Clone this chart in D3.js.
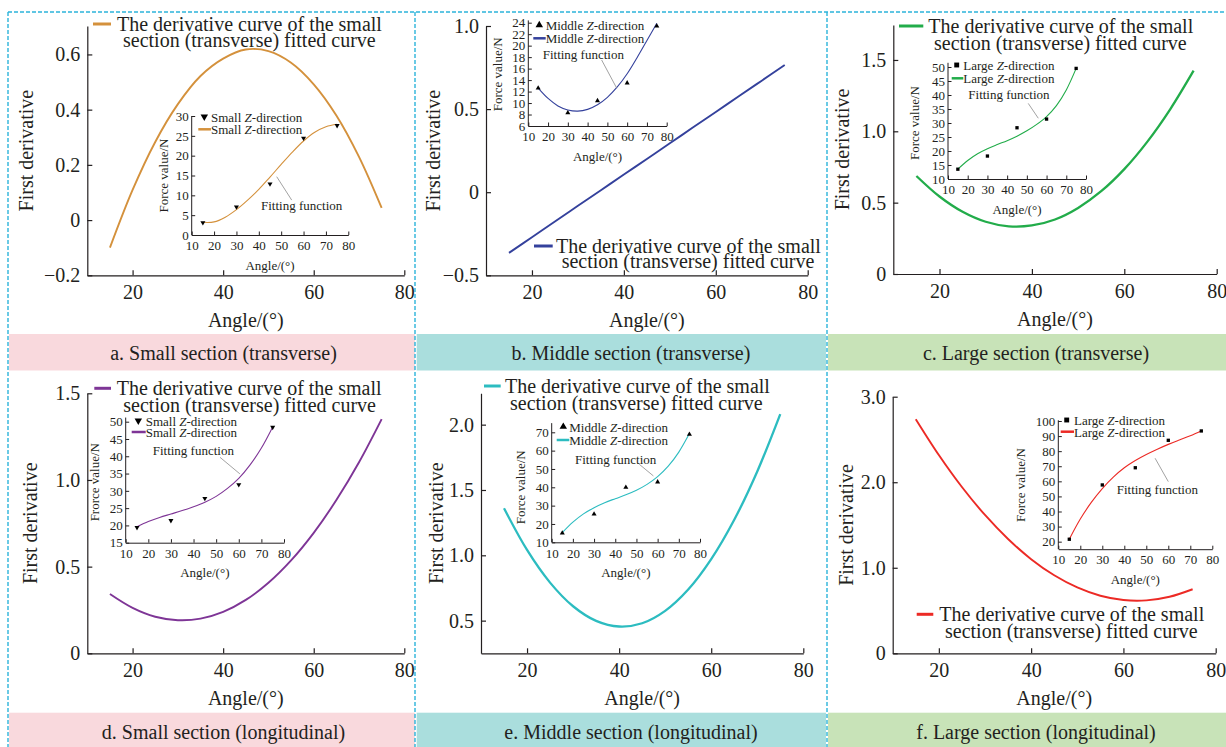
<!DOCTYPE html>
<html><head><meta charset="utf-8">
<script src="https://cdn.jsdelivr.net/npm/d3@7"></script>
<style>
body{margin:0;background:#fff;}
svg{display:block;}
text{font-family:"Liberation Serif","Times New Roman",serif;fill:#231f20;}
</style>
</head><body>
<svg id="chart" width="1226" height="747"></svg>
<script>
// ---------- data ----------
const curveAngles = [15,20,25,30,35,40,45,50,55,60,65,70,75];
const pointAngles = [15,30,45,60,75];
const mainXTicks = [20,40,60,80];
const insetXTicks = [10,20,30,40,50,60,70,80];

const derivA = [-0.100,0.109,0.283,0.420,0.522,0.585,0.618,0.612,0.570,0.492,0.379,0.229,0.044];
const derivB = [-0.365,-0.271,-0.176,-0.082,0.012,0.106,0.200,0.294,0.389,0.483,0.577,0.671,0.765];
const derivC = [0.687,0.543,0.436,0.366,0.334,0.340,0.382,0.463,0.580,0.735,0.928,1.158,1.425];
const derivD = [0.342,0.262,0.211,0.191,0.200,0.239,0.308,0.407,0.536,0.695,0.884,1.102,1.351];
const derivE = [1.360,1.041,0.791,0.610,0.498,0.455,0.480,0.575,0.738,0.971,1.272,1.642,2.081];
const derivF = [2.737,2.318,1.944,1.617,1.336,1.101,0.912,0.770,0.673,0.623,0.619,0.661,0.749];

const fitA = [3.2,3.3,4.5,6.4,8.8,11.5,14.6,17.8,20.9,23.7,25.9,27.3,27.9];
const fitB = [12.6,10.8,9.5,8.8,8.6,8.9,9.7,11.0,12.8,15.1,17.9,20.9,23.9];
const fitC = [13.5,16.6,19.0,20.8,22.3,23.7,25.3,27.2,29.5,32.3,36.2,41.8,49.5];
const fitD = [19.6,21.1,22.3,23.3,24.3,25.4,26.7,28.4,30.7,33.6,37.5,42.4,48.5];
const fitE = [15.3,21.0,25.5,28.9,31.6,33.8,35.9,38.4,41.6,45.8,51.5,59.2,69.3];
const fitF = [21.6,35.0,46.0,55.2,62.8,69.0,73.8,77.8,81.3,84.5,87.4,90.2,93.4];

const ptsA = [3.1,7.1,12.9,24.4,27.6];
const ptsB = [12.6,8.3,10.4,13.5,23.4];
const ptsC = [13.5,18.2,28.3,31.4,49.5];
const ptsD = [19.4,21.4,27.8,31.8,48.4];
const ptsE = [15.0,25.4,40.0,42.9,68.9];
const ptsF = [21.6,57.6,69.0,87.2,93.4];

const yTicksA = [-0.2,0,0.2,0.4,0.6];
const yTicksB = [-0.5,0,0.5,1.0];
const yTicksC = [0,0.5,1.0,1.5];
const yTicksD = [0,0.5,1.0,1.5];
const yTicksE = [0.5,1.0,1.5,2.0];
const yTicksF = [0,1.0,2.0,3.0];

const insetYTicksA = [0,5,10,15,20,25,30];
const insetYTicksB = [6,8,10,12,14,16,18,20,22,24];
const insetYTicksC = [10,15,20,25,30,35,40,45,50];
const insetYTicksD = [15,20,25,30,35,40,45,50];
const insetYTicksE = [10,20,30,40,50,60,70];
const insetYTicksF = [20,30,40,50,60,70,80,90,100];

const panelLabels = ["a. Small section (transverse)","b. Middle section (transverse)","c. Large section (transverse)",
  "d. Small section (longitudinal)","e. Middle section (longitudinal)","f. Large section (longitudinal)"];
const seriesNames = ["Small","Middle","Large","Small","Middle","Large"];
const insetYTitles = ["Force value/N","Force value/N","Force value/N","Frorce value/N","Force value/N","Force value/N"];
const legendLine1 = "The derivative curve of the small";
const legendLine2 = "section (transverse) fitted curve";
const mainXTitle = "Angle/(°)";
const mainYTitle = "First derivative";
const fitLabel = "Fitting function";

// ---------- layout / style ----------
const colors = ["#d4913c","#34419c","#22ac4a","#7e3596","#2cbcc0","#ec2a25"];
const markers = ["down","up","square","down","up","square"];
const derivs = [derivA,derivB,derivC,derivD,derivE,derivF];
const fits = [fitA,fitB,fitC,fitD,fitE,fitF];
const pts = [ptsA,ptsB,ptsC,ptsD,ptsE,ptsF];
const yTicks = [yTicksA,yTicksB,yTicksC,yTicksD,yTicksE,yTicksF];
const iyTicks = [insetYTicksA,insetYTicksB,insetYTicksC,insetYTicksD,insetYTicksE,insetYTicksF];

const layout = [
 {xr:[87.3,404.3], yr:[275.3,26], yd:[-0.2,0.703], tdx:-61.3, band:{x0:9,x1:415,y0:334,y1:370.5,c:"#f9d9dd",tx:223.5,ty:353},
  leg:{lx0:93,lx1:111,ly:24,t1x:117,t2x:123,t2y:40},
  ix:[191.7,348.3], iy:[235,116], iyd:[0,30], iyTop:30, itdx:-28.7,
  il:{mx:204.3,my:116.7,tx:211,ly:129.3,lx0:198.3}, ft:{x:261,y:205}, lead:[[48,14.7],[54.7,8.8]]},
 {xr:[486,807.7], yr:[275.3,26], yd:[-0.5,1.0], tdx:-52.7, band:{x0:416.7,x1:826,y0:334,y1:370.5,c:"#aadedd",tx:631,ty:353},
  leg:{lx0:534,lx1:552.7,ly:246,t1x:556,t2x:561.7,t2y:260.7},
  ix:[528.3,666.7], iy:[126,22.7], iyd:[6,24], iyTop:24.4, itdx:-31,
  il:{mx:539.3,my:25,tx:545.7,ly:38.3,lx0:533.3}, ft:{x:542.7,y:54.3}, lead:[[47.1,17.5],[54.7,12.6]]},
 {xr:[893.3,1216.7], yr:[274,25], yd:[0,1.745], tdx:-51.7, band:{x0:828,x1:1226,y0:334,y1:370.5,c:"#c8e3b8",tx:1036,ty:353},
  leg:{lx0:899,lx1:923.3,ly:26,t1x:928.3,t2x:934,t2y:42.7},
  ix:[948,1086], iy:[179,67], iyd:[10,50], iyTop:51.5, itdx:-34,
  il:{mx:956.7,my:65,tx:963.3,ly:78.3,lx0:951.7}, ft:{x:968.3,y:94}, lead:[[50.7,37.0],[55.8,31.7]]},
 {xr:[87.3,404.3], yr:[653.3,393.3], yd:[0,1.5], tdx:-57.3, band:{x0:9,x1:415,y0:712.7,y1:747,c:"#f9d9dd",tx:223.5,ty:731.7},
  leg:{lx0:94.3,lx1:111,ly:388.3,t1x:116.7,t2x:123.3,t2y:405},
  ix:[125.7,284], iy:[542.7,421.7], iyd:[15,50], iyTop:51.2, itdx:-31.4,
  il:{mx:138.3,my:420.7,tx:145.7,ly:432,lx0:131.7}, ft:{x:152.7,y:450.7}, lead:[[51.7,39.7],[60.5,34.9]]},
 {xr:[481,803.3], yr:[653.3,393.3], yd:[0.25,2.24], tdx:-45, band:{x0:416.7,x1:826,y0:712.7,y1:747,c:"#aadedd",tx:631,ty:731.7},
  leg:{lx0:484,lx1:500.7,ly:386,t1x:505,t2x:510,t2y:403.3},
  ix:[551.7,700], iy:[542.3,432.3], iyd:[10,70], iyTop:75, itdx:-31.7,
  il:{mx:563.3,my:426.7,tx:569.3,ly:440,lx0:556.7}, ft:{x:575,y:459}, lead:[[51.3,52.6],[58,46.2]]},
 {xr:[892.7,1215.7], yr:[653.3,396.7], yd:[0,3], tdx:-46.7, band:{x0:828,x1:1226,y0:712.7,y1:747,c:"#c8e3b8",tx:1036,ty:731.7},
  leg:{lx0:916.7,lx1:933.3,ly:614.3,t1x:939.3,t2x:945,t2y:630.7},
  ix:[1058.3,1212.3], iy:[549.2,421], iyd:[15,100], iyTop:100.5, itdx:-38,
  il:{mx:1066.7,my:420,tx:1074,ly:431.7,lx0:1060.7}, ft:{x:1116.7,y:489}, lead:[[54,75.3],[60,59.8]]}
];

const INK = "#231f20";
const svg = d3.select("#chart");
svg.append("rect").attr("width",1226).attr("height",747).attr("fill","#fff");

const fmtMain = v => v === 0 ? "0" : d3.format(".1f")(v);

function markerPath(type, size){
  if(type === "square") return d3.symbol(d3.symbolSquare, size)();
  return d3.symbol(d3.symbolTriangle, size)();
}
function addMarker(g, type, x, y, size){
  g.append("path").attr("d", markerPath(type,size))
   .attr("transform", `translate(${x},${y})` + (type==="down" ? " rotate(180)" : ""))
   .attr("fill", "#000");
}
function styleAxis(g, fs){
  g.attr("font-family", "Liberation Serif, Times New Roman, serif").attr("font-size", fs).attr("color", INK);
  g.selectAll("text").style("fill", INK);
}

// bands
layout.forEach((L,i) => {
  svg.append("rect").attr("x",L.band.x0).attr("y",L.band.y0)
    .attr("width",L.band.x1-L.band.x0).attr("height",L.band.y1-L.band.y0).attr("fill",L.band.c);
  svg.append("text").attr("x",L.band.tx).attr("y",L.band.ty).attr("text-anchor","middle")
    .attr("dominant-baseline","central").attr("font-size",20).text(panelLabels[i]);
});

// panels
layout.forEach((L,i) => {
  const g = svg.append("g");
  const color = colors[i];
  const x = d3.scaleLinear().domain([10,80]).range(L.xr);
  const y = d3.scaleLinear().domain(L.yd).range(L.yr);

  // main axes
  const gx = g.append("g").attr("transform",`translate(0,${L.yr[0]})`)
    .call(d3.axisBottom(x).tickValues(mainXTicks).tickSize(-5).tickSizeOuter(0).tickPadding(10).tickFormat(d3.format("d")));
  styleAxis(gx, 20);
  gx.selectAll("line,path").attr("stroke", INK).attr("stroke-width",1.2);
  const gy = g.append("g").attr("transform",`translate(${L.xr[0]},0)`)
    .call(d3.axisLeft(y).tickValues(yTicks[i]).tickSize(-5).tickSizeOuter(0).tickPadding(7).tickFormat(fmtMain));
  styleAxis(gy, 20);
  gy.selectAll("line,path").attr("stroke", INK).attr("stroke-width",1.2);

  g.append("text").attr("x",(L.xr[0]+L.xr[1])/2).attr("y",L.yr[0]+44.5).attr("text-anchor","middle")
    .attr("dominant-baseline","central").attr("font-size",20).text(mainXTitle);
  g.append("text").attr("transform",`translate(${L.xr[0]+L.tdx},${(L.yr[0]+L.yr[1])/2}) rotate(-90)`)
    .attr("text-anchor","middle").attr("dominant-baseline","central").attr("font-size",20).text(mainYTitle);

  // main derivative curve
  const line = d3.line().x((d,k)=>x(curveAngles[k])).y(d=>y(d)).curve(d3.curveCatmullRom.alpha(0.5));
  g.append("path").attr("d", line(derivs[i])).attr("fill","none").attr("stroke",color)
    .attr("stroke-width", (i===2||i===4)?2.3:1.9);

  // main legend (two-line label in one text element)
  g.append("line").attr("x1",L.leg.lx0).attr("x2",L.leg.lx1).attr("y1",L.leg.ly).attr("y2",L.leg.ly)
    .attr("stroke",color).attr("stroke-width",3);
  const lt = g.append("text").attr("font-size",20).attr("dominant-baseline","central");
  lt.append("tspan").attr("x",L.leg.t1x).attr("y",L.leg.ly).attr("dominant-baseline","central").text(legendLine1);
  lt.append("tspan").attr("x",L.leg.t2x).attr("y",L.leg.t2y).attr("dominant-baseline","central").text(legendLine2);

  // inset
  const ix = d3.scaleLinear().domain([10,80]).range(L.ix);
  const iy = d3.scaleLinear().domain(L.iyd).range(L.iy);
  const igx = g.append("g").attr("transform",`translate(0,${L.iy[0]})`)
    .call(d3.axisBottom(ix).tickValues(insetXTicks).tickSize(-3.5).tickSizeOuter(0).tickPadding(6).tickFormat(d3.format("d")));
  styleAxis(igx, 13);
  igx.selectAll("line,path").attr("stroke", INK).attr("stroke-width",1);
  const igy = g.append("g").attr("transform",`translate(${L.ix[0]},0)`)
    .call(d3.axisLeft(iy).tickValues(iyTicks[i]).tickSize(-3.5).tickSizeOuter(0).tickPadding(3).tickFormat(d3.format("d")));
  styleAxis(igy, 13);
  igy.select("path.domain").remove();
  igy.selectAll("line").attr("stroke", INK).attr("stroke-width",1);
  g.append("line").attr("x1",L.ix[0]).attr("x2",L.ix[0]).attr("y1",iy(L.iyd[0])).attr("y2",iy(L.iyTop))
    .attr("stroke",INK).attr("stroke-width",1);

  g.append("text").attr("x",(L.ix[0]+L.ix[1])/2).attr("y",L.iy[0]+30).attr("text-anchor","middle")
    .attr("dominant-baseline","central").attr("font-size",13).text(mainXTitle);
  g.append("text").attr("transform",`translate(${L.ix[0]+L.itdx},${(L.iy[0]+L.iy[1])/2}) rotate(-90)`)
    .attr("text-anchor","middle").attr("dominant-baseline","central").attr("font-size",13).text(insetYTitles[i]);

  const iline = d3.line().x((d,k)=>ix(curveAngles[k])).y(d=>iy(d)).curve(d3.curveCatmullRom.alpha(0.5));
  g.append("path").attr("d", iline(fits[i])).attr("fill","none").attr("stroke",color).attr("stroke-width",1.1);

  pts[i].forEach((v,k) => addMarker(g, markers[i], ix(pointAngles[k]), iy(v), 11));

  // inset legend
  addMarker(g, markers[i], L.il.mx, L.il.my, 24);
  g.append("line").attr("x1",L.il.lx0).attr("x2",L.il.tx).attr("y1",L.il.ly).attr("y2",L.il.ly)
    .attr("stroke",color).attr("stroke-width",2.5);
  const it = g.append("text").attr("font-size",13).attr("dominant-baseline","central");
  [L.il.my, L.il.ly].forEach(yy => {
    it.append("tspan").attr("x",L.il.tx).attr("y",yy).attr("dominant-baseline","central").text(seriesNames[i] + " ");
    it.append("tspan").attr("font-style","italic").attr("dominant-baseline","central").text("Z");
    it.append("tspan").attr("dominant-baseline","central").text("-direction");
  });

  g.append("text").attr("x",L.ft.x).attr("y",L.ft.y).attr("dominant-baseline","central").attr("font-size",13).text(fitLabel);
  g.append("line").attr("x1",ix(L.lead[0][0])).attr("y1",iy(L.lead[0][1]))
    .attr("x2",ix(L.lead[1][0])).attr("y2",iy(L.lead[1][1])).attr("stroke","#8a8a8a").attr("stroke-width",0.8);
});

// dashed frame lines
const dash = {stroke:"#2cb4da", w:1.4, da:"4,2"};
svg.append("line").attr("x1",8).attr("x2",1226).attr("y1",12).attr("y2",12)
  .attr("stroke",dash.stroke).attr("stroke-width",dash.w).attr("stroke-dasharray",dash.da);
[8,415,827].forEach(xv => {
  svg.append("line").attr("x1",xv).attr("x2",xv).attr("y1",12).attr("y2",747)
    .attr("stroke",dash.stroke).attr("stroke-width",dash.w).attr("stroke-dasharray",dash.da);
});
</script>
</body></html>
